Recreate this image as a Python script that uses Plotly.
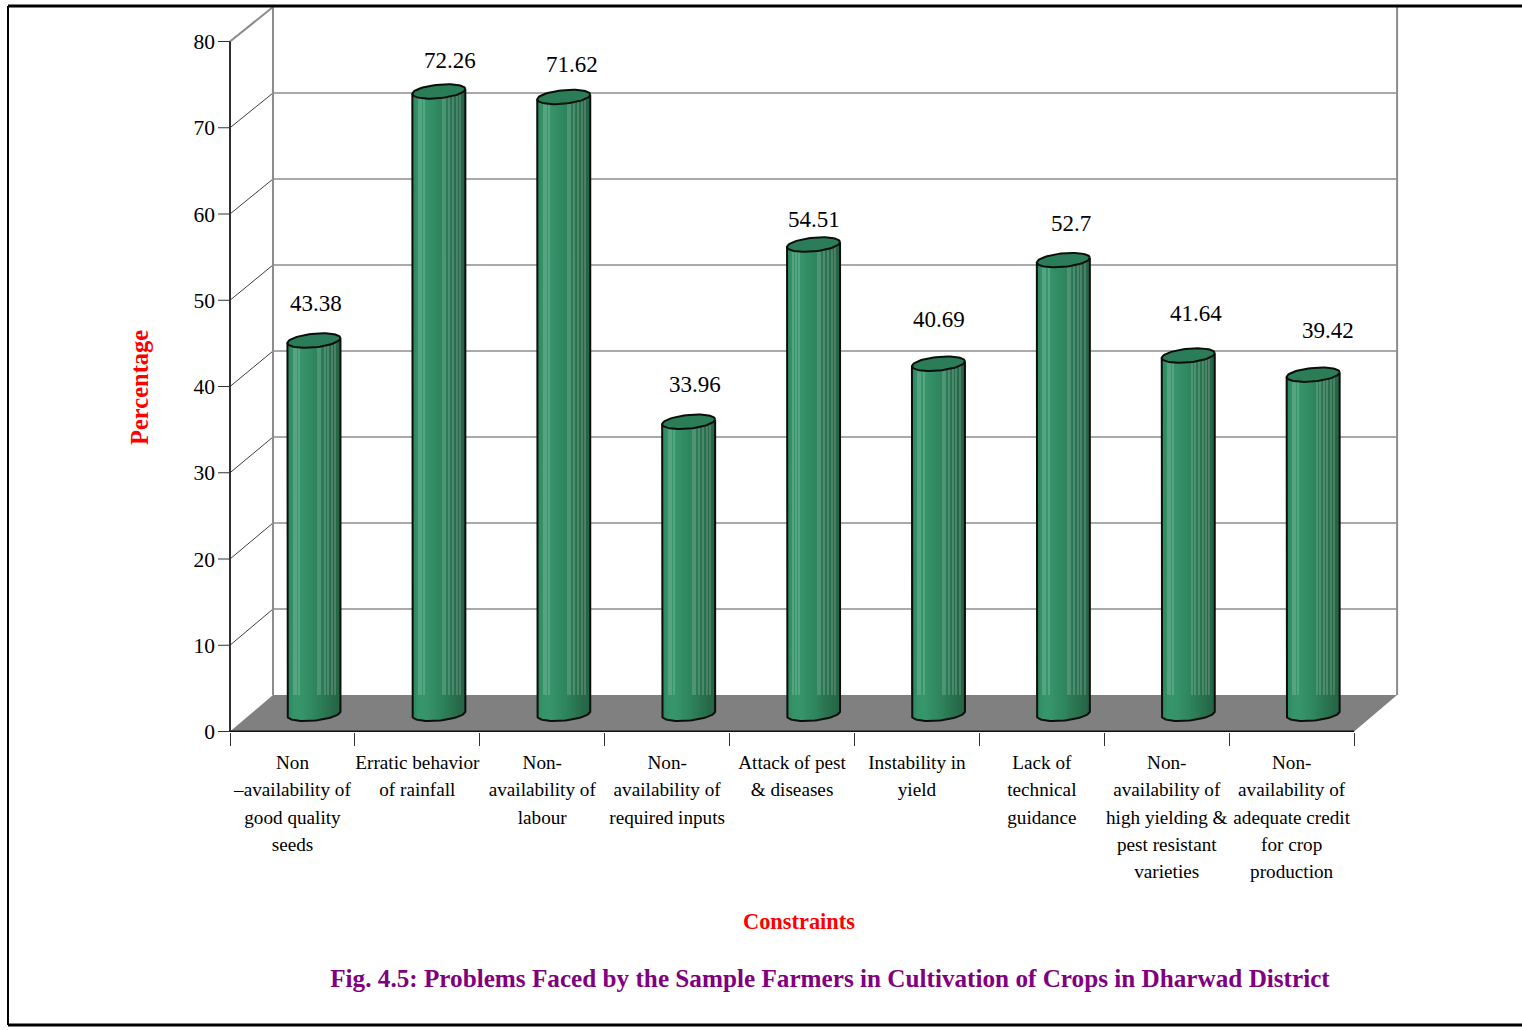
import numpy as np
import plotly.graph_objects as go

categories = [
    "Non|–availability of|good quality|seeds",
    "Erratic behavior|of rainfall",
    "Non-|availability of|labour",
    "Non-|availability of|required inputs",
    "Attack of pest|& diseases",
    "Instability in|yield",
    "Lack of|technical|guidance",
    "Non-|availability of|high yielding &|pest resistant|varieties",
    "Non-|availability of|adequate credit|for crop|production",
]
percentages = [43.38, 72.26, 71.62, 33.96, 54.51, 40.69, 52.7, 41.64, 39.42]
value_labels = ["43.38", "72.26", "71.62", "33.96", "54.51", "40.69", "52.7", "41.64", "39.42"]
y_ticks = [0, 10, 20, 30, 40, 50, 60, 70, 80]

# Label nudges in pixels relative to the top of each cylinder
label_dx = [2, 11, 8, 6, 0, 1, 8, 8, 15]
label_dy = [37, 31, 32, 37, 25, 44, 37, 42, 44]

# Canvas and plot frame, in pixels
W, H = 1522, 1030
LEFT, RIGHT, TOP, BOTTOM = 226, 1400, 5, 732
PX_X = 124.9
PX_Y = 8.625
ZERO_PX = 731.5

# Oblique depth of the chart box and cylinder geometry, in axis units
x0 = -0.5
depth_x, depth_y = 43 / PX_X, 36.5 / PX_Y
back_scale = 86.0 / (10 * PX_Y)
mid_x = 21.5 / PX_X
top_rise, foot_rise = 1.95, 2.05
half_w = 26.5 / PX_X
ell_b = 6.8 / PX_Y
ell_tilt = 2.4 / PX_Y

# Shades across the cylinder, left to right
shades = [
    "#2e8860", "#308b63", "#338f66", "#359269", "#36946a", "#37956b", "#37956b",
    "#37946a", "#369269", "#359067", "#338e65", "#328c63", "#318a61", "#30885f",
    "#2f865e", "#2e845c", "#2d8159", "#2c7e58", "#2b7b55", "#2b7853", "#2a7552",
    "#297250", "#28704e", "#286d4c", "#276a4a", "#276848", "#266647", "#266446",
]
# Pale hairlines on the cylinder above the floor, as fractions of its width
streak_positions = [0.12, 0.16, 0.22, 0.58, 0.62, 0.70, 0.77, 0.84, 0.90]

x_left = x0 - (230 - LEFT) / PX_X
x_right = x0 + (RIGHT - 230) / PX_X
y_bottom = (ZERO_PX - BOTTOM) / PX_Y
y_top = (ZERO_PX - TOP) / PX_Y
centers = np.arange(len(percentages)) + mid_x
values = np.array(percentages)


def px(xp):
    return (xp - LEFT) / (RIGHT - LEFT)


def py(yp):
    return (BOTTOM - yp) / (BOTTOM - TOP)


def back_y(tick):
    return tick * back_scale + depth_y


def tick_text(label):
    # Narrow glyphs on the wider line spacing of the surrounding tick font
    return "<br>".join(f'<span style="font-size:19.2px">{part}</span>' for part in label.split("|"))


fig = go.Figure()

# One bar trace per vertical stripe; the base follows the front arc of the foot
n = len(shades)
edges = np.linspace(-1, 1, n + 1)
for i, shade in enumerate(shades):
    u = (edges[i] + edges[i + 1]) / 2
    arc = foot_rise + ell_tilt * u - ell_b * np.sqrt(max(0.0, 1 - u * u))
    fig.add_trace(go.Bar(
        x=centers + u * half_w,
        y=values + top_rise + ell_tilt * u - arc,
        base=[arc] * len(values),
        width=half_w * 2 / n * 1.05,
        marker=dict(color=shade, line=dict(width=0)),
        opacity=1,
        showlegend=False,
        hoverinfo="skip",
    ))

# Hairlines run from the floor's back edge to the rim
for frac in streak_positions:
    u = 2 * frac - 1
    fig.add_trace(go.Bar(
        x=centers + u * half_w,
        y=values + top_rise + ell_tilt * u - depth_y,
        base=[depth_y] * len(values),
        width=1.0 / PX_X,
        marker=dict(color="#ffffff", line=dict(width=0)),
        opacity=0.16,
        showlegend=False,
        hoverinfo="skip",
    ))

# Outline of each cylinder: both sides and the foot arc
t = np.linspace(np.pi, 2 * np.pi, 40)
for c, v in zip(centers, values):
    xs = c + half_w * np.cos(t)
    ys = foot_rise + ell_tilt * np.cos(t) + ell_b * np.sin(t)
    fig.add_trace(go.Scatter(
        x=[c - half_w] + list(xs) + [c + half_w],
        y=[v + top_rise - ell_tilt] + list(ys) + [v + top_rise + ell_tilt],
        mode="lines", line=dict(color="#0a0f0c", width=2),
        showlegend=False, hoverinfo="skip",
    ))

# Tilted cap on each cylinder
t = np.linspace(0, 2 * np.pi, 80)
for c, v in zip(centers, values):
    fig.add_trace(go.Scatter(
        x=c + half_w * np.cos(t),
        y=v + top_rise + ell_tilt * np.cos(t) + ell_b * np.sin(t),
        mode="lines", fill="toself", fillcolor="#2a7d57",
        line=dict(color="#0a0f0c", width=2),
        showlegend=False, hoverinfo="skip",
    ))

shapes = []
right_front = x0 + len(percentages)

# Back wall gridlines with their diagonal returns to the front axis
for tick in y_ticks[1:]:
    diag_color, diag_w = ("#8c8c8c", 2) if tick == 80 else ("#404040", 1)
    if tick < 80:
        shapes.append(dict(type="line", x0=x0 + depth_x, x1=right_front + depth_x,
                           y0=back_y(tick), y1=back_y(tick),
                           line=dict(color="#555555", width=1), layer="below"))
    shapes.append(dict(type="line", x0=x0, x1=x0 + depth_x,
                       y0=tick, y1=back_y(tick),
                       line=dict(color=diag_color, width=diag_w), layer="below"))

# Floor
shapes.append(dict(
    type="path",
    path=(f"M {x0},0 L {x0 + depth_x},{depth_y} "
          f"L {right_front + depth_x},{depth_y} L {right_front},0 Z"),
    fillcolor="#808080", line=dict(width=0), layer="below",
))

# Wall edges
for xv, y0, y1, color, lw in [
    (x0 + depth_x, depth_y, y_top, "#8c8c8c", 2),
    (right_front + depth_x, depth_y, back_y(80), "#8c8c8c", 2),
    (x0, 0, 80, "#303030", 2),
]:
    shapes.append(dict(type="line", x0=xv, x1=xv, y0=y0, y1=y1,
                       line=dict(color=color, width=lw), layer="below"))

# Front baseline
shapes.append(dict(type="line", x0=x0, x1=right_front, y0=0, y1=0,
                   line=dict(color="#111111", width=2)))

# Page frame, open on the right
for xa, ya, xb, yb, lw in [
    (8, 6, 1522, 6, 3), (8, 6, 8, 1025, 2), (8, 1025, 1522, 1025, 3),
]:
    shapes.append(dict(type="line", xref="paper", yref="paper",
                       x0=px(xa), x1=px(xb), y0=py(ya), y1=py(yb),
                       line=dict(color="black", width=lw)))

annotations = [
    dict(x=c, y=v + top_rise, xref="x", yref="y", text=s, showarrow=False,
         xshift=dx, yshift=dy, font=dict(family="Liberation Serif", size=23, color="black"))
    for c, v, s, dx, dy in zip(centers, values, value_labels, label_dx, label_dy)
]
annotations += [
    dict(x=px(139), y=py(388), xref="paper", yref="paper", text="<b>Percentage</b>",
         textangle=-90, showarrow=False, xanchor="center", yanchor="middle",
         font=dict(family="Liberation Serif", size=24.5, color="#ff0000")),
    dict(x=px(799), y=py(921), xref="paper", yref="paper", text="<b>Constraints</b>",
         showarrow=False, xanchor="center", yanchor="middle",
         font=dict(family="Liberation Serif", size=22.4, color="#ff0000")),
]

fig.update_layout(
    width=W, height=H, autosize=False,
    margin=dict(l=LEFT, r=W - RIGHT, t=TOP, b=H - BOTTOM),
    paper_bgcolor="white", plot_bgcolor="white",
    barmode="overlay", showlegend=False,
    shapes=shapes, annotations=annotations,
    title=dict(
        text="<b>Fig. 4.5: Problems Faced by the Sample Farmers in Cultivation of Crops in Dharwad District</b>",
        x=830 / W, y=1 - 978 / H, xanchor="center", yanchor="middle",
        font=dict(family="Liberation Serif", size=25.2, color="#800080"),
    ),
    font=dict(family="Liberation Serif", color="black"),
    xaxis=dict(
        range=[x_left, x_right], showgrid=False, zeroline=False, showline=False,
        tickmode="array", tickvals=list(range(len(categories))),
        ticktext=[tick_text(c) for c in categories],
        ticks="", ticklen=0, tickangle=0, ticklabelstandoff=15,
        tickfont=dict(family="Liberation Serif", size=21, color="black"),
        minor=dict(tickmode="array",
                   tickvals=[x0 + i for i in range(len(categories) + 1)],
                   ticks="outside", ticklen=13, tickcolor="#303030", tickwidth=1, showgrid=False),
    ),
    yaxis=dict(
        range=[y_bottom, y_top], showgrid=False, zeroline=False, showline=False,
        tickmode="array", tickvals=y_ticks, ticks="", ticklabelstandoff=10,
        tickfont=dict(family="Liberation Serif", size=21.5, color="black"),
    ),
)

# Left-hand tick stubs on the front axis
for tick in y_ticks:
    fig.add_shape(type="line", xref="paper", yref="y", x0=px(218), x1=px(230), y0=tick, y1=tick,
                  line=dict(color="#303030", width=1))

fig.write_html("out.html")
